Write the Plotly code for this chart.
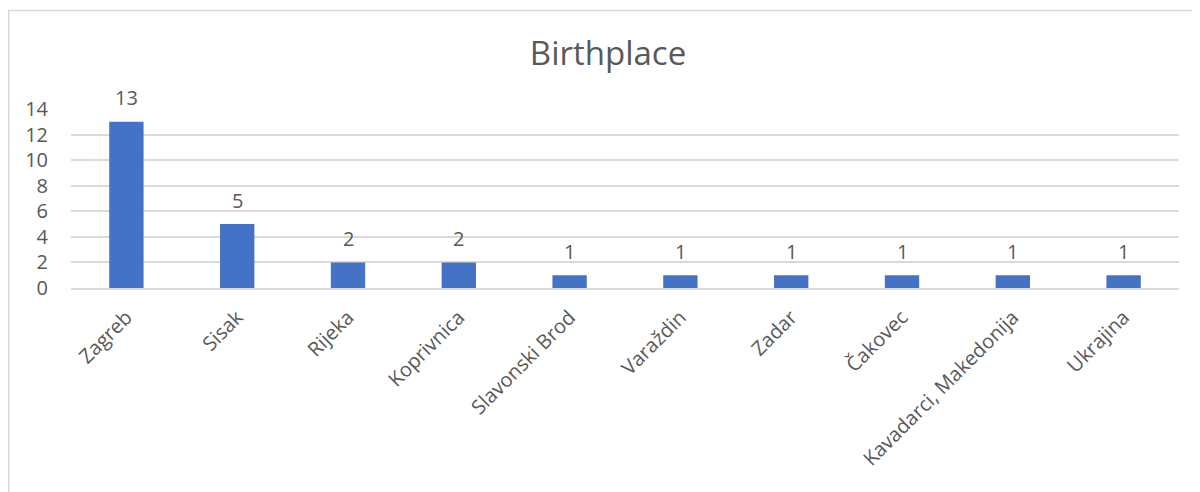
import plotly.graph_objects as go

# Birthplace counts
mjesta = ["Zagreb", "Sisak", "Rijeka", "Koprivnica", "Slavonski Brod",
          "Varaždin", "Zadar", "Čakovec", "Kavadarci, Makedonija", "Ukrajina"]
broj = [13, 5, 2, 2, 1, 1, 1, 1, 1, 1]
y_tickovi = [0, 2, 4, 6, 8, 10, 12, 14]

SIVA = "#595959"
FONT = "Open Sans"

fig = go.Figure(
    go.Bar(
        x=mjesta,
        y=broj,
        marker=dict(color="#4472C4", line=dict(color="#4472C4", width=0)),
    )
)

# value labels above the bars
for m, b in zip(mjesta, broj):
    fig.add_annotation(
        x=m, y=b, text=str(b), showarrow=False,
        yanchor="middle", yshift=24,
        font=dict(family=FONT, size=20, color=SIVA),
    )

# chart border, like the Excel chart area
fig.add_shape(
    type="rect", xref="paper", yref="paper",
    x0=-0.0562, x1=1.3, y0=-3, y1=1.55,
    line=dict(color="#d9d9d9", width=1.5), layer="below",
)

fig.update_layout(
    width=1200,
    height=492,
    title=dict(
        text="Birthplace", x=0.5, xanchor="center", y=0.9085, yanchor="middle",
        font=dict(family=FONT, size=33, color=SIVA),
    ),
    margin=dict(l=63, r=29, t=101, b=212),
    paper_bgcolor="white",
    plot_bgcolor="white",
    bargap=0.69,
    showlegend=False,
    font=dict(family=FONT, color=SIVA),
)

fig.update_xaxes(
    tickangle=-45,
    tickfont=dict(family=FONT, size=20, color=SIVA),
    showgrid=False,
    showline=True,
    linecolor="#d9d9d9",
    linewidth=1.5,
    ticks="",
    ticklabelstandoff=8,
)

fig.update_yaxes(
    range=[0, 14],
    tickvals=y_tickovi,
    tickfont=dict(family=FONT, size=20, color=SIVA),
    gridcolor="#d9d9d9",
    gridwidth=1.5,
    zeroline=False,
    showline=False,
    ticks="",
    ticklabelstandoff=22,
)

fig.write_html("out.html")
